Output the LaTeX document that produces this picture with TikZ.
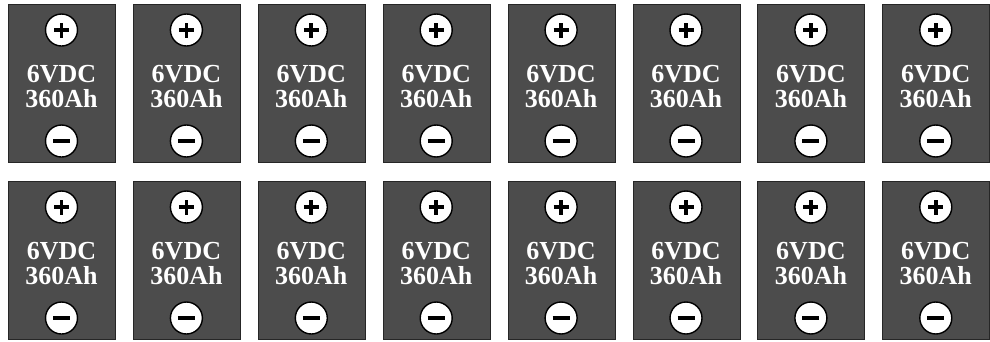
\documentclass[tikz,border=0pt]{standalone}
\usepackage{fontspec}
\setmainfont{Liberation Serif}
\begin{document}
\begin{tikzpicture}[x=1pt,y=-1pt,
  cell/.style={draw=black!85, line width=0.8pt, fill=black!70, minimum width=107pt, minimum height=158pt, inner sep=0pt, anchor=north west},
  term/.style={circle, draw=black, line width=1.4pt, fill=white, minimum size=32pt, inner sep=0pt},
  sign/.style={line width=3.8pt, black},
  plusterm/.style={term, path picture={
      \draw[sign] ([xshift=-7.5pt]path picture bounding box.center) -- ([xshift=7.5pt]path picture bounding box.center);
      \draw[sign] ([yshift=-7.5pt]path picture bounding box.center) -- ([yshift=7.5pt]path picture bounding box.center);}},
  minusterm/.style={term, path picture={
      \draw[sign] ([xshift=-8.5pt]path picture bounding box.center) -- ([xshift=8.5pt]path picture bounding box.center);}},
  lbl/.style={text=white, font=\bfseries\fontsize{26}{26}\selectfont, inner sep=0pt, anchor=base}]
\useasboundingbox (0,0) rectangle (990,341);
\foreach \r/\yt in {1/4, 2/181} {
  \foreach \c in {1,...,8} {
    \pgfmathsetmacro{\xl}{8+(\c-1)*124.9}
    \pgfmathsetmacro{\xc}{\xl+53.5}
    \node[cell] (b-\r-\c) at (\xl,\yt) {};
    \node[plusterm] (p-\r-\c) at (\xc,\yt+26) {};
    \node[lbl] (v-\r-\c) at (\xc,\yt+78) {6VDC};
    \node[lbl] (a-\r-\c) at (\xc,\yt+103) {360Ah};
    \node[minusterm] (m-\r-\c) at (\xc,\yt+137) {};
  }
}
\end{tikzpicture}
\end{document}
